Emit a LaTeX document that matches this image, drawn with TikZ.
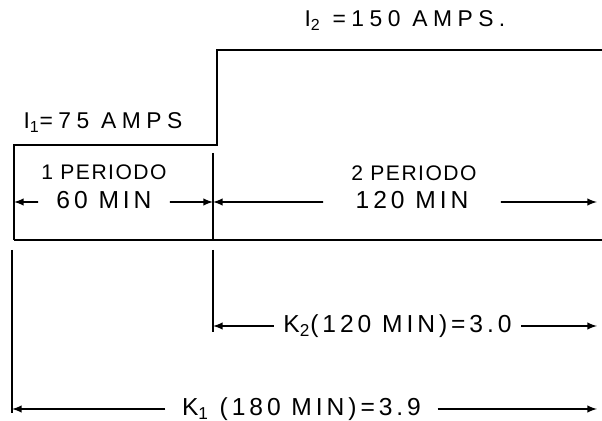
\documentclass[tikz,border=0pt]{standalone}
\usepackage{fontspec}
\setmainfont{Liberation Sans}
\newfontfamily\wideletters[LetterSpace=24]{Liberation Sans}
\newfontfamily\midletters[LetterSpace=16]{Liberation Sans}
\newfontfamily\tightletters[LetterSpace=7]{Liberation Sans}
\usetikzlibrary{calc,positioning,arrows}

\begin{document}
\begin{tikzpicture}[scale=0.2, line width=1pt,
  amps/.style={font=\wideletters\fontsize{13}{15}\selectfont, inner sep=0pt, anchor=base},
  per/.style={font=\tightletters\fontsize{12}{14}\selectfont, inner sep=0pt, anchor=base},
  dimtxt/.style={font=\midletters\fontsize{14}{16}\selectfont, text height=1.38ex, text depth=0pt, inner ysep=0pt},
  dim/.style={-latex, line width=0.9pt}]
\useasboundingbox (0,0) rectangle (60.2,42.1);
%\draw[help lines, step=1] (0,0) grid (60.2,42.1);

% the two current steps
\coordinate (b0) at (1.4,18.1);
\coordinate (b1) at (1.4,27.6);
\coordinate (s0) at (21.7,27.6);
\coordinate (s1) at (21.7,37.1);
\coordinate (t1) at (60.2,37.1);
\coordinate (br) at (60.2,18.1);
\draw (b0) -- (b1) -- (s0) -- (s1) -- (t1);
\draw (b0) -- (br);

% period divider
\coordinate (d0) at (21.3,26.8);
\coordinate (d1) at (21.3,18.1);
\draw[line width=0.6pt] (d0) -- (d1);

% extension lines for K
\coordinate (k2a) at (21.3,17.1);
\coordinate (k2b) at (21.3,8.9);
\coordinate (k1a) at (1.2,17.1);
\coordinate (k1b) at (1.2,0.8);
\coordinate (ee) at (59.7,0);
\draw (k2a) -- (k2b);
\draw (k1a) -- (k1b);

\node[amps] (itwo) at (40.5,39.4) {I\textsubscript{2} =150 AMPS.};
\node[amps] (ione) at (10.3,29.2) {I\textsubscript{1}=75 AMPS};

\node[per] (perone) at (10.4,24.1) {1 PERIODO};
\node[per] (pertwo) at (41.4,24.0) {2 PERIODO};

\node[dimtxt, inner xsep=10pt] (sixty) at (10.4,21.9) {60 MIN};
\draw[dim] (sixty) -- (sixty -| b0);
\draw[dim] (sixty) -- (sixty -| d1);

\node[dimtxt, inner xsep=18pt] (onetwenty) at (41.2,21.9) {120 MIN};
\draw[dim] (onetwenty) -- (onetwenty -| d1);
\draw[dim] (onetwenty) -- (onetwenty -| ee);

\node[dimtxt, inner xsep=5pt] (ktwo) at (39.75,9.5) {K\textsubscript{2}(120 MIN)=3.0};
\draw[dim] (ktwo) -- (ktwo -| k2a);
\draw[dim] (ktwo) -- (ktwo -| ee);

\node[dimtxt, inner xsep=9pt] (kone) at (30.15,1.2) {K\textsubscript{1} (180 MIN)=3.9};
\draw[dim] (kone) -- (kone -| k1a);
\draw[dim] (kone) -- (kone -| ee);

\end{tikzpicture}
\end{document}
